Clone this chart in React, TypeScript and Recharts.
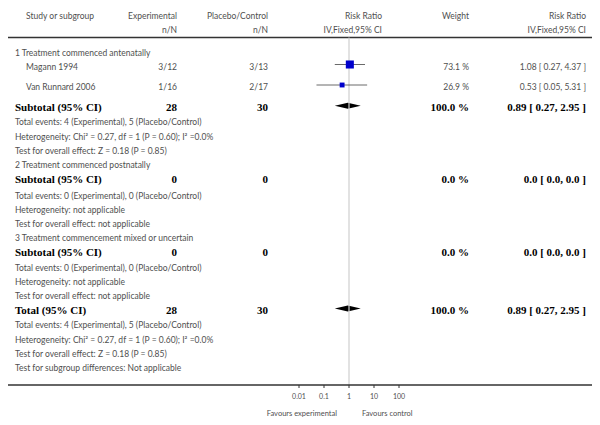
import React from "react";
import { ScatterChart, Scatter, XAxis, YAxis, ReferenceLine, ReferenceArea } from "recharts";

// ---------- data ----------
const headerTop = ["Study or subgroup", "Experimental", "Placebo/Control", "Risk Ratio", "Weight", "Risk Ratio"];
const headerSub = ["n/N", "n/N", "IV,Fixed,95% CI", "IV,Fixed,95% CI"];

const groupLabels = [
  "1 Treatment commenced antenatally",
  "2 Treatment commenced postnatally",
  "3 Treatment commencement mixed or uncertain",
];

const studyNames = ["Magann 1994", "Van Runnard 2006"];
const studyExp = ["3/12", "1/16"];
const studyCtl = ["3/13", "2/17"];
const studyRR = [1.08, 0.53];
const studyLow = [0.27, 0.05];
const studyHigh = [4.37, 5.31];
const studyWeight = [73.1, 26.9];

const pooledLabels = ["Subtotal (95% CI)", "Subtotal (95% CI)", "Subtotal (95% CI)", "Total (95% CI)"];
const pooledExp = [28, 0, 0, 28];
const pooledCtl = [30, 0, 0, 30];
const pooledWeight = [100.0, 0.0, 0.0, 100.0];
const pooledRR = [0.89, 0.0, 0.0, 0.89];
const pooledLow = [0.27, 0.0, 0.0, 0.27];
const pooledHigh = [2.95, 0.0, 0.0, 2.95];
const pooledHasDiamond = [true, false, false, true];

const notes1 = [
  "Total events: 4 (Experimental), 5 (Placebo/Control)",
  "Heterogeneity: Chi² = 0.27, df = 1 (P = 0.60); I² =0.0%",
  "Test for overall effect: Z = 0.18 (P = 0.85)",
];
const notes2 = [
  "Total events: 0 (Experimental), 0 (Placebo/Control)",
  "Heterogeneity: not applicable",
  "Test for overall effect: not applicable",
];
const notes3 = [
  "Total events: 0 (Experimental), 0 (Placebo/Control)",
  "Heterogeneity: not applicable",
  "Test for overall effect: not applicable",
];
const notesTotal = [
  "Total events: 4 (Experimental), 5 (Placebo/Control)",
  "Heterogeneity: Chi² = 0.27, df = 1 (P = 0.60); I² =0.0%",
  "Test for overall effect: Z = 0.18 (P = 0.85)",
  "Test for subgroup differences: Not applicable",
];

const axisTicks = [0.01, 0.1, 1, 10, 100];
const favoursLabels = ["Favours experimental", "Favours control"];

// ---------- layout ----------
const W = 600;
const H = 425;
const AXIS_Y = 385;
const HEADER_LINE_Y = 37.5;
const ROW_Y = [
  15.5, 29.5, 52.7, 66.5, 87, 107.3, 122.3, 136.5, 150.7, 165, 179.5, 195.5, 209.5, 223.5, 238, 252.5,
  268, 282, 296, 310, 325, 339.5, 354, 368,
];
const MARK_DY = -2;
const COL = { left: 15, study: 26, exp: 177, ctl: 268, rrHead: 382, weight: 469, rr: 586 };
const PX_PER_DECADE = 25;
const CENTER_PX = 349;
const X_LO = Math.pow(10, -(CENTER_PX - 8) / PX_PER_DECADE);
const X_HI = Math.pow(10, (W - 8 - CENTER_PX) / PX_PER_DECADE);

const GRAY = "#4f4f4f";
const SANS = "Lato, 'DejaVu Sans', sans-serif";
const SERIF = "'Liberation Serif', 'DejaVu Serif', serif";

const fmt2 = (v: number) => v.toFixed(2);
const fmt1 = (v: number) => v.toFixed(1);

// ---------- build rows ----------
type Row = { kind: string; cells: string[]; idx?: number };
const rows: Row[] = [];
rows.push({ kind: "header1", cells: headerTop });
rows.push({ kind: "header2", cells: headerSub });
rows.push({ kind: "group", cells: [groupLabels[0]] });
studyNames.forEach((n, i) =>
  rows.push({
    kind: "study",
    idx: i,
    cells: [
      n,
      studyExp[i],
      studyCtl[i],
      `${fmt1(studyWeight[i])} %`,
      `${fmt2(studyRR[i])} [ ${fmt2(studyLow[i])}, ${fmt2(studyHigh[i])} ]`,
    ],
  })
);
const pooledCells = (i: number) => {
  const d = pooledHasDiamond[i];
  return [
    pooledLabels[i],
    String(pooledExp[i]),
    String(pooledCtl[i]),
    `${fmt1(pooledWeight[i])} %`,
    d
      ? `${fmt2(pooledRR[i])} [ ${fmt2(pooledLow[i])}, ${fmt2(pooledHigh[i])} ]`
      : `${fmt1(pooledRR[i])} [ ${fmt1(pooledLow[i])}, ${fmt1(pooledHigh[i])} ]`,
  ];
};
rows.push({ kind: "pooled", idx: 0, cells: pooledCells(0) });
notes1.forEach((t) => rows.push({ kind: "note", cells: [t] }));
rows.push({ kind: "group", cells: [groupLabels[1]] });
rows.push({ kind: "pooled", idx: 1, cells: pooledCells(1) });
notes2.forEach((t) => rows.push({ kind: "note", cells: [t] }));
rows.push({ kind: "group", cells: [groupLabels[2]] });
rows.push({ kind: "pooled", idx: 2, cells: pooledCells(2) });
notes3.forEach((t) => rows.push({ kind: "note", cells: [t] }));
rows.push({ kind: "pooled", idx: 3, cells: pooledCells(3) });
notesTotal.forEach((t) => rows.push({ kind: "note", cells: [t] }));

const textData = rows.map((r, i) => ({ ...r, x: 1, y: ROW_Y[i] }));

const studyRowIndex = rows.map((r, i) => (r.kind === "study" ? i : -1)).filter((i) => i >= 0);
const pooledRowIndex = rows.map((r, i) => (r.kind === "pooled" ? i : -1)).filter((i) => i >= 0);

const squareData = studyNames.map((n, i) => ({
  name: n,
  x: studyRR[i],
  y: ROW_Y[studyRowIndex[i]] + MARK_DY,
  w: studyWeight[i],
}));

// ---------- render helpers ----------
const gray = (x: number, y: number, t: string, anchor: "start" | "end" = "start", key?: string) => (
  <text key={key} x={x} y={y + 3} textAnchor={anchor} fontFamily={SANS} fontSize={8.5} fill={GRAY}>
    {t}
  </text>
);
const bold = (x: number, y: number, t: string, anchor: "start" | "end" = "start", key?: string) => (
  <text key={key} x={x} y={y + 3.8} textAnchor={anchor} fontFamily={SERIF} fontWeight="bold" fontSize={11} fill="#000">
    {t}
  </text>
);

const RowShape = (props: any) => {
  const { cy, payload } = props;
  const c: string[] = payload.cells;
  switch (payload.kind) {
    case "header1":
      return (
        <g>
          {gray(COL.study, cy, c[0], "start", "a")}
          {gray(COL.exp, cy, c[1], "end", "b")}
          {gray(COL.ctl, cy, c[2], "end", "c")}
          {gray(COL.rrHead, cy, c[3], "end", "d")}
          {gray(COL.weight, cy, c[4], "end", "e")}
          {gray(COL.rr, cy, c[5], "end", "f")}
        </g>
      );
    case "header2":
      return (
        <g>
          {gray(COL.exp, cy, c[0], "end", "a")}
          {gray(COL.ctl, cy, c[1], "end", "b")}
          {gray(COL.rrHead, cy, c[2], "end", "c")}
          {gray(COL.rr, cy, c[3], "end", "d")}
        </g>
      );
    case "study":
      return (
        <g>
          {gray(COL.study, cy, c[0], "start", "a")}
          {gray(COL.exp, cy, c[1], "end", "b")}
          {gray(COL.ctl, cy, c[2], "end", "c")}
          {gray(COL.weight, cy, c[3], "end", "d")}
          {gray(COL.rr, cy, c[4], "end", "e")}
        </g>
      );
    case "pooled":
      return (
        <g>
          {bold(COL.left, cy, c[0], "start", "a")}
          {bold(COL.exp, cy, c[1], "end", "b")}
          {bold(COL.ctl, cy, c[2], "end", "c")}
          {bold(COL.weight, cy, c[3], "end", "d")}
          {bold(COL.rr, cy, c[4], "end", "e")}
        </g>
      );
    default:
      return <g>{gray(COL.left, cy, c[0], "start", "a")}</g>;
  }
};

const SquareShape = (props: any) => {
  const { cx, cy, payload } = props;
  const s = 0.94 * Math.sqrt(payload.w);
  return <rect x={cx - s / 2} y={cy - s / 2} width={s} height={s} fill="#0000cc" />;
};

const DiamondShape = (props: any) => {
  const { x, y, width, height } = props;
  const mx = x + width / 2;
  const my = y + height / 2;
  return (
    <polygon
      points={`${x},${my} ${mx},${y} ${x + width},${my} ${mx},${y + height}`}
      fill="#000"
      stroke="none"
    />
  );
};

const FavoursLabel = () => (
  <g>
    <text x={CENTER_PX - 12} y={416} textAnchor="end" fontFamily={SANS} fontSize={7.5} fill={GRAY}>
      {favoursLabels[0]}
    </text>
    <text x={CENTER_PX + 13} y={416} textAnchor="start" fontFamily={SANS} fontSize={7.5} fill={GRAY}>
      {favoursLabels[1]}
    </text>
  </g>
);

export default function App() {
  return (
    <div style={{ position: "absolute", left: 0, top: 0, width: W, height: H, background: "#fff" }}>
      <ScatterChart width={W} height={H} margin={{ top: 0, right: 8, bottom: 0, left: 8 }}>
        <XAxis
          type="number"
          dataKey="x"
          scale="log"
          domain={[X_LO, X_HI]}
          allowDataOverflow
          ticks={axisTicks}
          tickFormatter={(v: number) => String(v)}
          height={H - AXIS_Y}
          axisLine={{ stroke: "#333", strokeWidth: 1.5 }}
          tickLine={{ stroke: "#333" }}
          tickSize={3}
          tickMargin={6}
          tick={{ fontSize: 7, fill: GRAY, fontFamily: SANS }}
          label={<FavoursLabel />}
          interval={0}
        />
        <YAxis type="number" dataKey="y" domain={[0, AXIS_Y]} reversed hide width={0} allowDataOverflow />
        <ReferenceLine
          segment={[
            { x: X_LO, y: HEADER_LINE_Y },
            { x: X_HI, y: HEADER_LINE_Y },
          ]}
          stroke="#333"
          strokeWidth={1.5}
          ifOverflow="visible"
        />
        <ReferenceLine
          segment={[
            { x: 1, y: HEADER_LINE_Y },
            { x: 1, y: AXIS_Y },
          ]}
          stroke="#cfcfcf"
          strokeWidth={1.2}
        />
        {studyNames.map((n, i) => (
          <ReferenceLine
            key={n}
            segment={[
              { x: studyLow[i], y: ROW_Y[studyRowIndex[i]] + MARK_DY },
              { x: studyHigh[i], y: ROW_Y[studyRowIndex[i]] + MARK_DY },
            ]}
            stroke="#444"
            strokeWidth={0.8}
          />
        ))}
        {pooledLabels.map((l, i) =>
          pooledHasDiamond[i] ? (
            <ReferenceArea
              key={`d${i}`}
              x1={pooledLow[i]}
              x2={pooledHigh[i]}
              y1={ROW_Y[pooledRowIndex[i]] + MARK_DY + 0.5 - 3}
              y2={ROW_Y[pooledRowIndex[i]] + MARK_DY + 0.5 + 3}
              shape={<DiamondShape />}
            />
          ) : null
        )}
        <Scatter data={squareData} shape={<SquareShape />} isAnimationActive={false} />
        <Scatter data={textData} shape={<RowShape />} isAnimationActive={false} />
      </ScatterChart>
    </div>
  );
}
